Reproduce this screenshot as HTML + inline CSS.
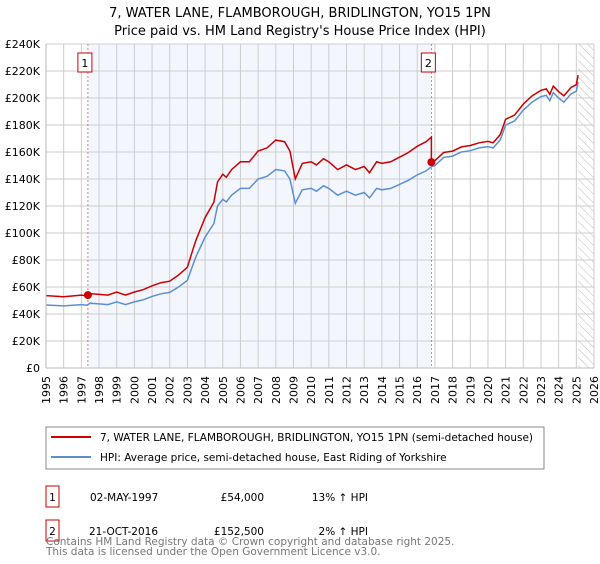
<!DOCTYPE html>
<html><head><meta charset="utf-8"><style>
body{margin:0;background:#fff;font-family:"DejaVu Sans","Liberation Sans",sans-serif;}
svg text{font-family:"DejaVu Sans","Liberation Sans",sans-serif;}
</style></head><body>
<svg id="c" width="600" height="560" xmlns="http://www.w3.org/2000/svg">
<defs><pattern id="hatch" width="6" height="6" patternUnits="userSpaceOnUse" patternTransform="rotate(-45)"><rect width="6" height="6" fill="#fff"/><line x1="0" y1="0" x2="0" y2="6" stroke="#bbb" stroke-width="1"/></pattern></defs>
<text x="300" y="17" font-size="13" text-anchor="middle">7, WATER LANE, FLAMBOROUGH, BRIDLINGTON, YO15 1PN</text>
<text x="300" y="35" font-size="13" text-anchor="middle">Price paid vs. HM Land Registry's House Price Index (HPI)</text>
<g id="plot"></g>
<rect x="46" y="427" width="498" height="42" fill="#fff" stroke="#888"/>
<line x1="51" y1="437" x2="91" y2="437" stroke="#cc0000" stroke-width="2"/>
<text x="100" y="441" font-size="10.5">7, WATER LANE, FLAMBOROUGH, BRIDLINGTON, YO15 1PN (semi-detached house)</text>
<line x1="51" y1="457" x2="91" y2="457" stroke="#5b8fd4" stroke-width="2"/>
<text x="100" y="461" font-size="10.5">HPI: Average price, semi-detached house, East Riding of Yorkshire</text>
<g font-size="10.5">
<rect x="46" y="486" width="13" height="21" fill="#fff" stroke="#cc0000"/>
<text x="52.5" y="501" text-anchor="middle">1</text>
<text x="90" y="501">02-MAY-1997</text><text x="264" y="501" text-anchor="end">£54,000</text><text x="368" y="501" text-anchor="end">13% ↑ HPI</text>
<rect x="46" y="520" width="13" height="21" fill="#fff" stroke="#cc0000"/>
<text x="52.5" y="535" text-anchor="middle">2</text>
<text x="89" y="535">21-OCT-2016</text><text x="264" y="535" text-anchor="end">£152,500</text><text x="368" y="535" text-anchor="end">2% ↑ HPI</text>
</g>
<text x="46" y="545" font-size="10.5" fill="#777">Contains HM Land Registry data © Crown copyright and database right 2025.</text>
<text x="46" y="555" font-size="10.5" fill="#777">This data is licensed under the Open Government Licence v3.0.</text>
</svg>
<script>
const hpiYears=[1995,1996,1997,1997.3,1997.5,1998,1998.5,1999,1999.5,2000,2000.5,2001,2001.5,2002,2002.5,2003,2003.3,2003.5,2004,2004.5,2004.7,2005,2005.2,2005.5,2006,2006.5,2007,2007.5,2008,2008.5,2008.8,2009.1,2009.5,2010,2010.3,2010.7,2011,2011.5,2012,2012.5,2013,2013.3,2013.7,2014,2014.5,2015,2015.5,2016,2016.5,2016.8,2017,2017.5,2018,2018.5,2019,2019.5,2020,2020.3,2020.7,2021,2021.5,2022,2022.5,2023,2023.3,2023.5,2023.7,2024,2024.3,2024.7,2025,2025.1];
const hpiValues=[46.7,46,47,46.5,48,47.5,47,49,47,49,50.5,53,55,56,60,65,76,83,97,107,120,125,123,128,133,133,140,142,147,146,140,122,132,133,131,135,133,128,131,128,130,126,133,132,133,136,139,143,146,149,150,156,157,160,161,163,164,163,169,180,183,191,197,201,202,198,204,200,197,203,205,212];
const saleYears=[1997.37,2016.8];
const salePrices=[54,152.5];
const yTicks=[0,20,40,60,80,100,120,140,160,180,200,220,240];
const xTicks=[1995,1996,1997,1998,1999,2000,2001,2002,2003,2004,2005,2006,2007,2008,2009,2010,2011,2012,2013,2014,2015,2016,2017,2018,2019,2020,2021,2022,2023,2024,2025,2026];
const X0=46,X1=594,Y0=368,Y1=44;
const sx=v=>X0+(v-1995)/(2026-1995)*(X1-X0);
const sy=v=>Y0-v/240*(Y0-Y1);
const NS='http://www.w3.org/2000/svg';
const g=document.getElementById('plot');
function mk(t,a,p){const e=document.createElementNS(NS,t);for(const k in a)e.setAttribute(k,a[k]);(p||g).appendChild(e);return e;}
function hpiAt(t){for(let i=0;i<hpiYears.length-1;i++){if(t<=hpiYears[i+1]){const f=(t-hpiYears[i])/(hpiYears[i+1]-hpiYears[i]);return hpiValues[i]+f*(hpiValues[i+1]-hpiValues[i]);}}return hpiValues[hpiValues.length-1];}
let e=mk('rect',{x:sx(saleYears[0]),y:Y1,width:sx(saleYears[1])-sx(saleYears[0]),height:Y0-Y1,fill:'#eef3fc',opacity:0.7});

e=mk('rect',{x:sx(2025.1),y:Y1,width:X1-sx(2025.1),height:Y0-Y1,fill:'url(#hatch)'});

yTicks.forEach(v=>{let l=mk('line',{x1:X0,x2:X1,y1:sy(v),y2:sy(v),stroke:'#ccc'});

let t=mk('text',{x:X0-6,y:sy(v)+4,'font-size':11,'text-anchor':'end'});t.textContent=v===0?'£0':'£'+v+'K';
});
xTicks.forEach(v=>{let l=mk('line',{x1:sx(v),x2:sx(v),y1:Y1,y2:Y0,stroke:'#ccc'});

let t=mk('text',{x:0,y:0,'font-size':11,'text-anchor':'end',transform:`translate(${sx(v)+4},${Y0+8}) rotate(-90)`});t.textContent=v;
});
saleYears.forEach((s,i)=>{let l=mk('line',{x1:sx(s),x2:sx(s),y1:Y1,y2:Y0,stroke:'#e06060','stroke-dasharray':'2,2','stroke-width':0.8});
});
let pts=hpiYears.map((y,i)=>sx(y).toFixed(1)+','+sy(hpiValues[i]).toFixed(1)).join(' ');
e=mk('polyline',{points:pts,fill:'none',stroke:'#5b8fd4','stroke-width':1.5});

const r1=salePrices[0]/hpiAt(saleYears[0]),r2=salePrices[1]/hpiAt(saleYears[1]);
let rp=[];
hpiYears.forEach((y,i)=>{if(y<saleYears[1])rp.push([y,hpiValues[i]*r1]);});
rp.push([saleYears[1],hpiAt(saleYears[1])*r1]);rp.push([saleYears[1],salePrices[1]]);
hpiYears.forEach((y,i)=>{if(y>saleYears[1])rp.push([y,hpiValues[i]*r2]);});
e=mk('polyline',{points:rp.map(p=>sx(p[0]).toFixed(1)+','+sy(p[1]).toFixed(1)).join(' '),fill:'none',stroke:'#cc0000','stroke-width':1.5});

saleYears.forEach((s,i)=>{let c=mk('circle',{cx:sx(s),cy:sy(salePrices[i]),r:4,fill:'#cc0000'});

let b=mk('rect',{x:sx(s)-10,y:53,width:14,height:19,fill:'#fff',stroke:'#cc0000'});

let t=mk('text',{x:sx(s)-3,y:67,'font-size':11,'text-anchor':'middle'});t.textContent=i+1;
});
e=mk('line',{x1:X0,x2:X0,y1:Y1,y2:Y0,stroke:'#bbb'});

e=mk('line',{x1:X0,x2:X1,y1:Y0,y2:Y0,stroke:'#bbb'});

</script>
</body></html>
